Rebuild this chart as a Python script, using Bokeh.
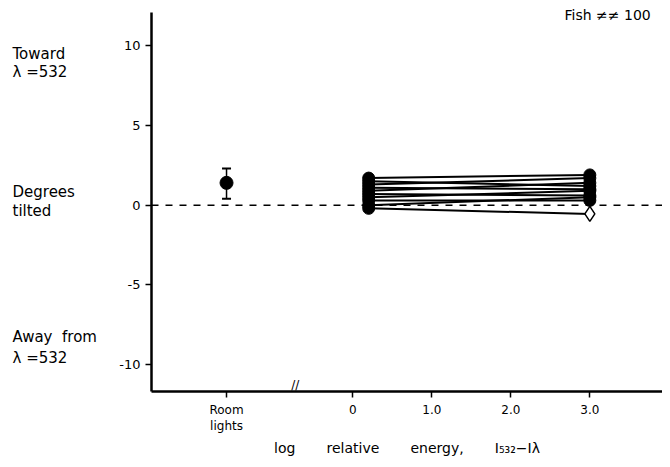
from bokeh.plotting import figure
from bokeh.models import Range1d, FixedTicker, Label, Span, Whisker, ColumnDataSource, TeeHead
from bokeh.layouts import row
from bokeh.core.properties import value
from bokeh.embed import file_html
from bokeh.resources import INLINE

# ---- data ----
room_x = [-1.6]
room_mean = [1.4]
room_lo = [0.4]
room_hi = [2.3]

x_start = [0.2] * 10
x_end = [3.0] * 10
y_start = [1.7, 1.5, 1.3, 1.1, 0.9, 0.7, 0.5, 0.3, 0.0, -0.2]
y_end = [1.9, 1.2, 1.7, 1.0, 1.4, 0.6, 0.9, 0.3, 0.5, -0.55]
open_flags = [False] * 9 + [True]

x_ticks = [-1.6, 0, 1, 2, 3]
x_tick_labels = ["Room\nlights", "0", "1.0", "2.0", "3.0"]
y_ticks = [-10, -5, 0, 5, 10]
y_tick_labels = ["-10", "-5", "0", "5", "10"]

NB = "\u00a0"
side_texts = ["Toward", "λ =532", "Degrees", "tilted", "Away" + NB * 2 + "from", "λ =532"]
side_y = [9.5, 8.35, 0.8, -0.35, -8.25, -9.6]
x_title = ("log" + NB * 7 + "relative" + NB * 7 + "energy," + NB * 7 + "I₅₃₂−Iλ")

FONT = "DejaVu Sans"
TOP, BOTTOM = 4, 68
Y_LO, Y_HI = -11.7, 12.1
yr = Range1d(Y_LO, 12.6)

# ---- left text panel ----
left = figure(width=115, height=459, output_backend="svg", toolbar_location=None,
              x_range=Range1d(0, 115), y_range=yr,
              min_border_left=0, min_border_right=0, min_border_top=TOP, min_border_bottom=BOTTOM)
left.axis.visible = False
left.grid.visible = False
left.outline_line_color = None
left.text(x=[12] * len(side_texts), y=side_y, text=side_texts,
          text_font=value(FONT), text_font_size="15px", text_align="left",
          text_baseline="middle", text_color="black")

# ---- main plot ----
p = figure(width=547, height=459, output_backend="svg", toolbar_location=None,
           x_range=Range1d(-2.55, 3.92), y_range=yr,
           min_border_left=36, min_border_right=0, min_border_top=TOP, min_border_bottom=BOTTOM)
p.outline_line_color = None
p.grid.visible = False

for ax in (p.xaxis[0], p.yaxis[0]):
    ax.axis_line_width = 2.5
    ax.axis_line_color = "black"
    ax.major_tick_line_width = 1.5
    ax.major_tick_line_color = "black"
    ax.major_tick_in = 0
    ax.major_tick_out = 6
    ax.minor_tick_line_color = None
    ax.major_label_text_font = FONT
    ax.major_label_text_color = "black"
p.xaxis.major_label_text_font_size = "12px"
p.yaxis.major_label_text_font_size = "13px"

p.xaxis.ticker = FixedTicker(ticks=x_ticks)
p.xaxis.major_label_overrides = {t: l for t, l in zip(x_ticks, x_tick_labels)}
p.xaxis.major_label_standoff = 5
p.xaxis.axis_label = x_title
p.xaxis.axis_label_text_font = FONT
p.xaxis.axis_label_text_font_style = "normal"
p.xaxis.axis_label_text_font_size = "14px"
p.xaxis.axis_label_text_color = "black"
p.xaxis.axis_label_standoff = 4

p.yaxis.ticker = FixedTicker(ticks=y_ticks)
p.yaxis.major_label_overrides = {t: l for t, l in zip(y_ticks, y_tick_labels)}
p.yaxis.major_label_standoff = 5
p.yaxis.bounds = (Y_LO, Y_HI)

# zero dashed line
p.add_layout(Span(location=0, dimension="width", line_color="black",
                  line_dash="7 7", line_width=1.5))

# lines
p.multi_line(xs=[[a, b] for a, b in zip(x_start, x_end)],
             ys=[[a, b] for a, b in zip(y_start, y_end)],
             line_color="black", line_width=2)

p.scatter(x_start, y_start, size=12, marker="circle", color="black")
fx = [x for x, o in zip(x_end, open_flags) if not o]
fy = [y for y, o in zip(y_end, open_flags) if not o]
ox = [x for x, o in zip(x_end, open_flags) if o]
oy = [y for y, o in zip(y_end, open_flags) if o]
p.scatter(fx, fy, size=12, marker="circle", color="black")
p.scatter(ox, oy, size=15, marker="diamond", fill_color="white", line_color="black", line_width=1.5)

# room lights point
src = ColumnDataSource(dict(x=room_x, lo=room_lo, hi=room_hi))
p.add_layout(Whisker(source=src, base="x", lower="lo", upper="hi", dimension="height",
                     line_color="black", line_width=1.5,
                     upper_head=TeeHead(size=9, line_color="black", line_width=2),
                     lower_head=TeeHead(size=9, line_color="black", line_width=2)))
p.scatter(room_x, room_mean, size=13, marker="circle", color="black")

# axis break
p.add_layout(Label(x=-0.73, y=Y_LO, text="//", text_font=FONT, text_font_size="12px",
                   text_align="center", text_baseline="bottom", text_color="black"))

# fish id
p.add_layout(Label(x=2.68, y=11.95, text="Fish ≠≠ 100", text_font=FONT, text_font_size="14px",
                   text_align="left", text_baseline="middle", text_color="black"))

layout = row(left, p, spacing=0)
open("out.html", "w").write(file_html(layout, INLINE))
